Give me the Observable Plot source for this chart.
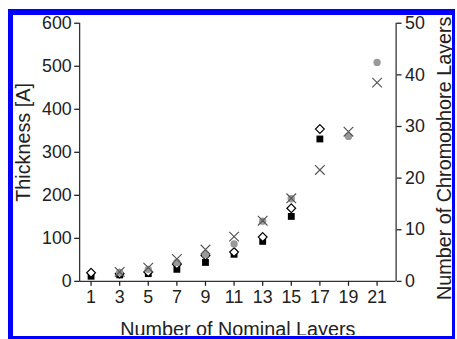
<!DOCTYPE html>
<html><head><meta charset="utf-8">
<script src="https://cdn.jsdelivr.net/npm/d3@7"></script>
<script src="https://cdn.jsdelivr.net/npm/@observablehq/plot@0.6"></script>
<style>
html,body{margin:0;padding:0;background:#fff;}
#frame{position:absolute;left:8px;top:9px;width:447px;height:330px;box-sizing:border-box;border-style:solid;border-color:#0000ff;border-width:6px 3px 3px 5px;overflow:hidden;background:#fff;}
#chart{position:absolute;left:-13px;top:-15px;}
</style></head>
<body><div id="frame"><div id="chart"></div></div>
<script>
// Data (thickness-equivalent units on the left axis; right axis = left / 12)
const layers    = [1, 3, 5, 7, 9, 11, 13, 15, 17, 19, 21];
const squares   = [12, 15, 18, 28, 44, 63, 93, 151, 331, null, null];
const diamonds  = [20, 18, 22, 40, 60, 68, 103, 170, 354, null, null];
const circles   = [null, 21, 28, 44, 63, 87, 140, 192, null, 337, 509];
const crosses   = [null, 22, 32, 52, 74, 104, 141, 193, 259, 348, 462];

const xTicks  = [1, 3, 5, 7, 9, 11, 13, 15, 17, 19, 21];
const yTicks  = [0, 100, 200, 300, 400, 500, 600];
const y2Ticks = [0, 10, 20, 30, 40, 50];

const xLabel  = "Number of Nominal Layers";
const yLabel  = "Thickness [A]";
const y2Label = "Number of Chromophore Layers";

const xDomain = [0.2, 22.33];
const yDomain = [0, 600];
const ratio = 600 / 50;

const rows = vals => layers.map((x, i) => ({x, y: vals[i]})).filter(d => d.y != null);

const chart = Plot.plot({
  width: 457, height: 339,
  marginLeft: 80, marginRight: 57, marginTop: 23, marginBottom: 55,
  style: {fontFamily: '"Liberation Sans", Arial, sans-serif', fontSize: "18px", color: "#222", background: "transparent"},
  x: {domain: xDomain},
  y: {domain: yDomain},
  marks: [
    Plot.ruleY([0], {stroke: "#333", strokeWidth: 1.3}),
    Plot.ruleX(xDomain, {stroke: "#333", strokeWidth: 1.3}),
    Plot.axisX(xTicks, {tickSize: 5, tickPadding: 4, label: null, strokeWidth: 1.3}),
    Plot.axisY(yTicks, {anchor: "left", tickSize: 5, tickPadding: 3, label: null, strokeWidth: 1.3}),
    Plot.axisY(y2Ticks.map(v => v * ratio), {anchor: "right", tickSize: 5, tickPadding: 4, tickFormat: d => d / ratio, label: null, strokeWidth: 1.3}),
    Plot.dot(rows(squares), {x: "x", y: "y", symbol: "square", r: 3.9, fill: "#000"}),
    Plot.dot(rows(diamonds), {x: "x", y: "y", symbol: "diamond2", r: 4, fill: "#fff", stroke: "#000", strokeWidth: 1.2}),
    Plot.dot(rows(circles), {x: "x", y: "y", symbol: "circle", r: 3.7, fill: "#999"}),
    Plot.dot(rows(crosses), {x: "x", y: "y", symbol: "times", r: 4.5, stroke: "#555", strokeWidth: 1.2}),
    Plot.text([yLabel], {frameAnchor: "left", textAnchor: "middle", dx: -57, dy: -10, rotate: -90, fontSize: 20, fill: "#222"}),
    Plot.text([y2Label], {frameAnchor: "right", textAnchor: "middle", dx: 49, dy: 6, rotate: -90, fontSize: 20, fill: "#222"}),
    Plot.text([xLabel], {frameAnchor: "bottom", textAnchor: "middle", dy: 41, lineAnchor: "top", fontSize: 20, fill: "#222"})
  ]
});
document.getElementById("chart").appendChild(chart);
</script>
</body></html>
